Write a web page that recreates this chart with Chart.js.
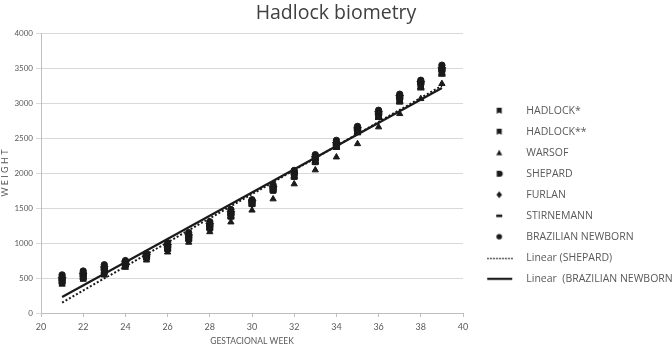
<!DOCTYPE html>
<html><head><meta charset="utf-8">
<script src="https://cdn.jsdelivr.net/npm/chart.js@4/dist/chart.umd.min.js"></script>
<style>html,body{margin:0;padding:0;background:#fff;}#wrap{width:672px;height:349px;position:relative;}</style>
</head><body><div id="wrap"><canvas id="c"></canvas></div>
<script>
const weeks = [21,22,23,24,25,26,27,28,29,30,31,32,33,34,35,36,37,38,39];
const hadlock1 = [440,500,580,680,790,915,1055,1210,1380,1560,1750,1950,2160,2380,2590,2810,3030,3240,3430];
const hadlock2 = [460,520,600,700,800,930,1070,1230,1400,1570,1770,1970,2180,2390,2610,2830,3050,3260,3450];
const warsof = [410,480,540,650,755,870,1010,1160,1300,1470,1630,1845,2045,2230,2420,2660,2850,3065,3280];
const shepard = [480,540,630,720,820,950,1090,1250,1420,1590,1790,2000,2210,2410,2630,2850,3080,3290,3480];
const furlan = [510,570,660,740,840,980,1120,1280,1450,1610,1810,2020,2240,2440,2650,2880,3110,3310,3510];
const stirnemann = [430,490,570,670,780,900,1040,1200,1360,1540,1740,1930,2140,2350,2560,2780,3000,3200,3400];
const brazilian = [545,600,690,750,850,1005,1150,1305,1480,1620,1835,2040,2265,2470,2670,2900,3130,3330,3545];
const trendWeeks = [21,39];
const shepardTrend = [150,3250];
const brazilianTrend = [229,3220];
const seriesNames = ['HADLOCK*','HADLOCK**','WARSOF','SHEPARD','FURLAN','STIRNEMANN','BRAZILIAN NEWBORN','Linear (SHEPARD)','Linear  (BRAZILIAN NEWBORN)'];

const FONT = 'Lato, "Open Sans", sans-serif';
const LFONT = '"Open Sans", Lato, sans-serif';
const INK = '#1a1a1a';
const TXT = '#595959';
const pts = (ys) => weeks.map((w,i)=>({x:w,y:ys[i]}));
const tpts = (ys) => trendWeeks.map((w,i)=>({x:w,y:ys[i]}));

function icon(kind){
  const c = document.createElement('canvas'); c.width = 32; c.height = 12;
  const g = c.getContext('2d'); g.fillStyle = INK; g.strokeStyle = INK;
  const cx = 18, cy = 6;
  g.beginPath();
  if (kind==='book'){ g.moveTo(cx-2.5,cy-3);g.lineTo(cx+2.5,cy-3);g.lineTo(cx+2.5,cy+3);g.lineTo(cx,cy+1.8);g.lineTo(cx-2.5,cy+3);g.closePath();g.fill(); }
  else if (kind==='tri'){ g.moveTo(cx,cy-3);g.lineTo(cx+3,cy+2.5);g.lineTo(cx-3,cy+2.5);g.closePath();g.fill(); }
  else if (kind==='d'){ g.moveTo(cx-2.5,cy-3);g.lineTo(cx+0.5,cy-3);g.arc(cx+0.5,cy,3,-Math.PI/2,Math.PI/2);g.lineTo(cx-2.5,cy+3);g.closePath();g.fill(); }
  else if (kind==='dia'){ g.moveTo(cx,cy-3.5);g.lineTo(cx+2.8,cy);g.lineTo(cx,cy+3.5);g.lineTo(cx-2.8,cy);g.closePath();g.fill(); }
  else if (kind==='dash'){ g.fillRect(cx-3,cy-1.2,6,2.6); }
  else if (kind==='circ'){ g.arc(cx,cy,2.8,0,Math.PI*2);g.fill(); }
  else if (kind==='dot'){ for(let x=6;x<31;x+=3){ g.fillRect(x,cy,1.6,1.4);} }
  else if (kind==='solid'){ g.fillRect(6,cy-1,25,2.2); }
  return c;
}
const icons = ['book','book','tri','d','dia','dash','circ','dot','solid'].map(icon);

const sc = (label, data, style, r, extra) => Object.assign({type:'scatter',label,data:pts(data),pointStyle:style,pointRadius:r,pointHoverRadius:r,backgroundColor:INK,borderColor:INK,borderWidth:1},extra||{});

const datasets = [
  sc(seriesNames[0], hadlock1, 'rect', 3.8),
  sc(seriesNames[1], hadlock2, 'rect', 3.8),
  sc(seriesNames[2], warsof, 'triangle', 3.6),
  sc(seriesNames[3], shepard, 'rectRounded', 3.8),
  sc(seriesNames[4], furlan, 'rectRot', 3.8),
  sc(seriesNames[5], stirnemann, 'line', 3.6, {borderWidth:2.6}),
  sc(seriesNames[6], brazilian, 'circle', 3.2),
  {type:'line',label:seriesNames[7],data:tpts(shepardTrend),borderColor:INK,borderWidth:2,borderDash:[2,2],pointRadius:0,fill:false,order:-1},
  {type:'line',label:seriesNames[8],data:tpts(brazilianTrend),borderColor:INK,borderWidth:2.2,pointRadius:0,fill:false,order:-2}
];

new Chart(document.getElementById('c'), {
  type:'scatter',
  data:{datasets},
  options:{
    responsive:true, maintainAspectRatio:false, animation:false,
    layout:{padding:{left:0,right:0,top:0,bottom:0}},
    plugins:{
      tooltip:{enabled:false},
      title:{display:true,text:'Hadlock biometry',color:'#404040',font:{family:LFONT,size:19.5,weight:'normal'},padding:{top:2,bottom:8}},
      legend:{position:'right',maxWidth:209,align:'start',
        title:{display:true,text:' ',font:{size:10},padding:{top:83,bottom:0}},
        labels:{usePointStyle:true,pointStyleWidth:47.5,boxHeight:11,padding:10.5,color:TXT,font:{family:LFONT,size:10.5},
          generateLabels:(chart)=>chart.data.datasets.map((d,i)=>({text:d.label,fillStyle:INK,strokeStyle:INK,lineWidth:0,hidden:false,datasetIndex:i,pointStyle:icons[i],rotation:0,fontColor:TXT}))
        }}
    },
    scales:{
      x:{type:'linear',min:20,max:40,
        ticks:{stepSize:2,color:TXT,font:{family:FONT,size:9},padding:5},
        grid:{drawOnChartArea:false,drawTicks:true,tickLength:4,color:'#bfbfbf'},
        border:{color:'#bfbfbf'},
        title:{display:true,text:'GESTACIONAL WEEK',color:TXT,font:{family:FONT,size:8.5},padding:{top:2,bottom:3}},
        afterFit:(s)=>{s.height=36;}
      },
      y:{min:0,max:4000,
        ticks:{stepSize:500,color:TXT,font:{family:FONT,size:8},padding:3,callback:(v)=>String(v)},
        grid:{color:'#d9d9d9',tickLength:5},
        border:{color:'#bfbfbf'},
        title:{display:true,text:'W E I G H T',color:TXT,font:{family:FONT,size:9},padding:{top:0,bottom:2}},
        afterFit:(s)=>{s.width=41;}
      }
    }
  }
});
</script></body></html>
